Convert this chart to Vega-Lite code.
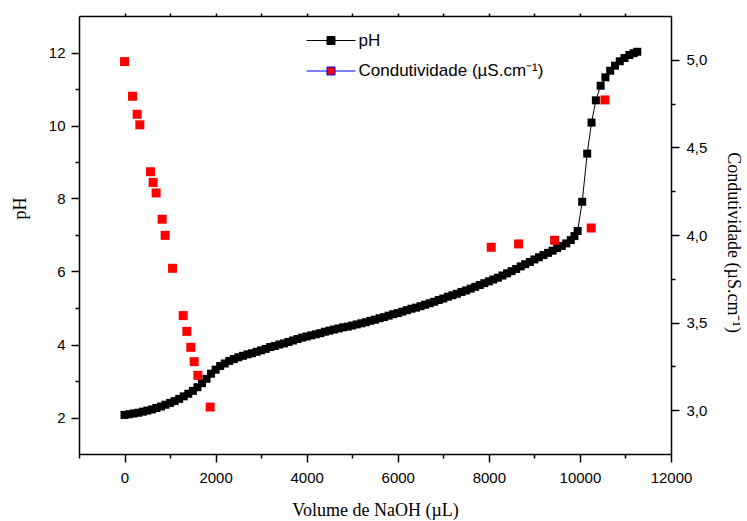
{
  "$schema": "https://vega.github.io/schema/vega-lite/v6.json",
  "width": 592,
  "height": 438,
  "autosize": {"type": "none"},
  "padding": {"left": 79, "top": 16, "right": 76, "bottom": 67},
  "background": "white",
  "config": {
    "view": {"stroke": null},
    "axis": {
      "labelFont": "Liberation Sans",
      "labelFontSize": 15,
      "labelColor": "black",
      "titleFont": "Liberation Serif",
      "titleFontSize": 18,
      "titleFontWeight": "normal",
      "titleColor": "black",
      "domainColor": "black",
      "domainWidth": 1.5,
      "tickColor": "black",
      "tickWidth": 1.5,
      "grid": false,
      "labelFlush": false,
      "labelOverlap": false
    }
  },
  "datasets": {
    "ph": [
      {"v": 0, "ph": 2.07}, {"v": 100, "ph": 2.09}, {"v": 200, "ph": 2.11}, {"v": 300, "ph": 2.13},
      {"v": 400, "ph": 2.16}, {"v": 500, "ph": 2.19}, {"v": 600, "ph": 2.22}, {"v": 700, "ph": 2.26},
      {"v": 800, "ph": 2.30}, {"v": 900, "ph": 2.35}, {"v": 1000, "ph": 2.40}, {"v": 1100, "ph": 2.45},
      {"v": 1200, "ph": 2.51}, {"v": 1300, "ph": 2.58}, {"v": 1400, "ph": 2.65}, {"v": 1500, "ph": 2.73},
      {"v": 1600, "ph": 2.83}, {"v": 1700, "ph": 2.94}, {"v": 1800, "ph": 3.06}, {"v": 1900, "ph": 3.20},
      {"v": 2000, "ph": 3.31}, {"v": 2100, "ph": 3.41}, {"v": 2200, "ph": 3.48}, {"v": 2300, "ph": 3.55},
      {"v": 2400, "ph": 3.60}, {"v": 2500, "ph": 3.65}, {"v": 2600, "ph": 3.69}, {"v": 2700, "ph": 3.73},
      {"v": 2800, "ph": 3.76}, {"v": 2900, "ph": 3.80}, {"v": 3000, "ph": 3.84}, {"v": 3100, "ph": 3.88},
      {"v": 3200, "ph": 3.93}, {"v": 3300, "ph": 3.96}, {"v": 3400, "ph": 4.00}, {"v": 3500, "ph": 4.03},
      {"v": 3600, "ph": 4.07}, {"v": 3700, "ph": 4.11}, {"v": 3800, "ph": 4.15}, {"v": 3900, "ph": 4.19},
      {"v": 4000, "ph": 4.22}, {"v": 4100, "ph": 4.25}, {"v": 4200, "ph": 4.28}, {"v": 4300, "ph": 4.31},
      {"v": 4400, "ph": 4.35}, {"v": 4500, "ph": 4.38}, {"v": 4600, "ph": 4.41}, {"v": 4700, "ph": 4.44},
      {"v": 4800, "ph": 4.47}, {"v": 4900, "ph": 4.49}, {"v": 5000, "ph": 4.52}, {"v": 5100, "ph": 4.55},
      {"v": 5200, "ph": 4.58}, {"v": 5300, "ph": 4.61}, {"v": 5400, "ph": 4.65}, {"v": 5500, "ph": 4.68},
      {"v": 5600, "ph": 4.72}, {"v": 5700, "ph": 4.75}, {"v": 5800, "ph": 4.79}, {"v": 5900, "ph": 4.83},
      {"v": 6000, "ph": 4.86}, {"v": 6100, "ph": 4.90}, {"v": 6200, "ph": 4.94}, {"v": 6300, "ph": 4.98},
      {"v": 6400, "ph": 5.01}, {"v": 6500, "ph": 5.05}, {"v": 6600, "ph": 5.09}, {"v": 6700, "ph": 5.13},
      {"v": 6800, "ph": 5.17}, {"v": 6900, "ph": 5.22}, {"v": 7000, "ph": 5.26}, {"v": 7100, "ph": 5.31},
      {"v": 7200, "ph": 5.35}, {"v": 7300, "ph": 5.39}, {"v": 7400, "ph": 5.44}, {"v": 7500, "ph": 5.48},
      {"v": 7600, "ph": 5.53}, {"v": 7700, "ph": 5.58}, {"v": 7800, "ph": 5.63}, {"v": 7900, "ph": 5.68},
      {"v": 8000, "ph": 5.73}, {"v": 8100, "ph": 5.78}, {"v": 8200, "ph": 5.83}, {"v": 8300, "ph": 5.89},
      {"v": 8400, "ph": 5.95}, {"v": 8500, "ph": 6.01}, {"v": 8600, "ph": 6.07}, {"v": 8700, "ph": 6.14},
      {"v": 8800, "ph": 6.20}, {"v": 8900, "ph": 6.26}, {"v": 9000, "ph": 6.33}, {"v": 9100, "ph": 6.39},
      {"v": 9200, "ph": 6.45}, {"v": 9300, "ph": 6.51}, {"v": 9400, "ph": 6.57}, {"v": 9500, "ph": 6.64},
      {"v": 9600, "ph": 6.70}, {"v": 9700, "ph": 6.77}, {"v": 9800, "ph": 6.86}, {"v": 9880, "ph": 6.97},
      {"v": 9950, "ph": 7.11}, {"v": 10050, "ph": 7.91}, {"v": 10160, "ph": 9.23}, {"v": 10255, "ph": 10.08},
      {"v": 10350, "ph": 10.69}, {"v": 10455, "ph": 11.09}, {"v": 10560, "ph": 11.32}, {"v": 10665, "ph": 11.50},
      {"v": 10770, "ph": 11.64}, {"v": 10875, "ph": 11.76}, {"v": 10980, "ph": 11.85}, {"v": 11085, "ph": 11.93},
      {"v": 11180, "ph": 11.98}, {"v": 11260, "ph": 12.02}
    ],
    "cond": [
      {"v": 0, "c": 4.99}, {"v": 176, "c": 4.792}, {"v": 277, "c": 4.689}, {"v": 336, "c": 4.629},
      {"v": 571, "c": 4.361}, {"v": 628, "c": 4.30}, {"v": 694, "c": 4.24}, {"v": 826, "c": 4.09},
      {"v": 892, "c": 3.998}, {"v": 1054, "c": 3.81}, {"v": 1288, "c": 3.54}, {"v": 1368, "c": 3.45},
      {"v": 1456, "c": 3.359}, {"v": 1529, "c": 3.277}, {"v": 1610, "c": 3.199}, {"v": 1880, "c": 3.018},
      {"v": 8052, "c": 3.93}, {"v": 8653, "c": 3.949}, {"v": 9444, "c": 3.97}, {"v": 10248, "c": 4.04},
      {"v": 10549, "c": 4.771}
    ]
  },
  "layer": [
    {
      "data": {"name": "ph"},
      "encoding": {
        "x": {
          "field": "v", "type": "quantitative",
          "scale": {"domain": [-1000, 12000], "nice": false, "zero": false},
          "axis": {
            "orient": "bottom",
            "title": "Volume de NaOH (µL)",
            "values": [-1000, 0, 1000, 2000, 3000, 4000, 5000, 6000, 7000, 8000, 9000, 10000, 11000, 12000],
            "format": "d",
            "labelExpr": "datum.value % 2000 === 0 ? datum.label : ''",
            "tickSize": {"condition": {"test": "datum.value % 2000 !== 0", "value": 4}, "value": 8},
            "labelPadding": 8,
            "titlePadding": 16
          }
        },
        "y": {
          "field": "ph", "type": "quantitative",
          "scale": {"domain": [1, 13], "nice": false, "zero": false},
          "axis": {
            "orient": "left",
            "title": "pH",
            "values": [2, 3, 4, 5, 6, 7, 8, 9, 10, 11, 12],
            "labelExpr": "datum.value % 2 === 0 ? datum.label : ''",
            "tickSize": {"condition": {"test": "datum.value % 2 !== 0", "value": 4}, "value": 8},
            "labelPadding": 6,
            "titleX": -59,
            "titleY": 192,
            "titleBaseline": "middle"
          }
        }
      },
      "layer": [
        {"mark": {"type": "line", "color": "black", "strokeWidth": 1}},
        {
          "mark": {"type": "point", "shape": "square", "filled": true, "size": 64, "opacity": 1, "strokeWidth": 0},
          "encoding": {
            "fill": {
              "datum": "pH", "type": "nominal",
              "scale": {"domain": ["pH", "Condutividade (µS.cm⁻¹)"], "range": ["black", "red"]},
              "legend": {
                "title": null,
                "orient": "none",
                "legendX": 243.5,
                "legendY": 16,
                "padding": 0,
                "symbolType": "M-4.9,0H-0.8M0.8,0H4.9M-0.8,-0.8H0.8V0.8H-0.8Z",
                "symbolSize": 100,
                "symbolStrokeWidth": 1,
                "symbolOpacity": 1,
                "labelFont": "Liberation Sans",
                "labelFontSize": 17,
                "labelColor": "black",
                "labelOffset": 19,
                "labelLimit": 400,
                "rowPadding": 12.5,
                "encode": {
                  "symbols": {
                    "update": {
                      "stroke": {"signal": "datum.value === 'pH' ? 'black' : '#0000ff'"},
                      "strokeWidth": {"value": 1}
                    }
                  }
                }
              }
            }
          }
        }
      ]
    },
    {
      "data": {"name": "cond"},
      "encoding": {
        "x": {
          "field": "v", "type": "quantitative",
          "scale": {"domain": [-1000, 12000], "nice": false, "zero": false},
          "axis": {
            "orient": "top",
            "title": null,
            "labels": false,
            "values": [0, 1000, 2000, 3000, 4000, 5000, 6000, 7000, 8000, 9000, 10000, 11000],
            "tickSize": 3
          }
        },
        "y": {
          "field": "c", "type": "quantitative",
          "scale": {"domain": [2.75, 5.25], "nice": false, "zero": false},
          "axis": {
            "orient": "right",
            "title": "Condutividade (µS.cm⁻¹)",
            "values": [3, 3.25, 3.5, 3.75, 4, 4.25, 4.5, 4.75, 5],
            "labelExpr": "(datum.value * 2) % 1 === 0 ? replace(format(datum.value, '.1f'), '.', ',') : ''",
            "tickSize": {"condition": {"test": "(datum.value * 2) % 1 !== 0", "value": 4}, "value": 8},
            "labelPadding": 7,
            "titleX": 61,
            "titleY": 226,
            "titleAngle": 90,
            "titleBaseline": "middle"
          }
        }
      },
      "layer": [
        {
          "mark": {"type": "point", "shape": "square", "filled": true, "size": 81, "opacity": 1, "strokeWidth": 0},
          "encoding": {
            "fill": {"datum": "Condutividade (µS.cm⁻¹)", "type": "nominal"}
          }
        }
      ]
    }
  ],
  "resolve": {"scale": {"y": "independent"}, "axis": {"x": "independent"}}
}
